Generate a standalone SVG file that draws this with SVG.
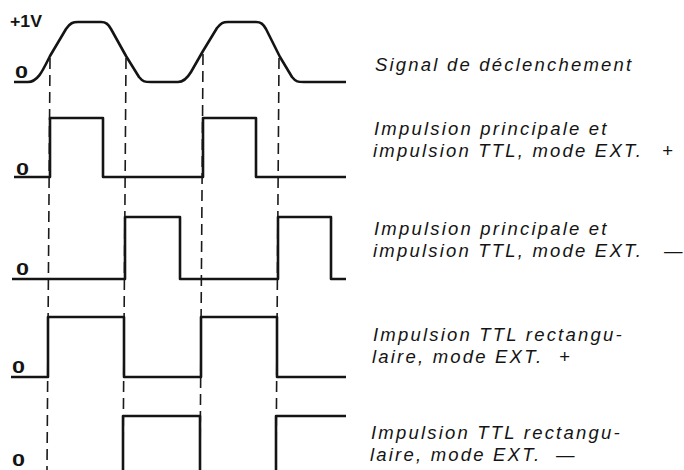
<svg xmlns="http://www.w3.org/2000/svg" width="684" height="470" viewBox="0 0 684 470">
<style>
  .wave { fill: none; stroke: #141414; stroke-width: 2.6; stroke-linejoin: round; stroke-linecap: butt; }
  .dash { fill: none; stroke: #1a1a1a; stroke-width: 1.6; stroke-dasharray: 11 6; }
  .lab { font-family: "Liberation Sans", Arial, sans-serif; font-style: italic; font-size: 18.5px; letter-spacing: 2.2px; fill: #141414; }
  .zero { font-family: "Liberation Sans", Arial, sans-serif; font-weight: bold; font-size: 16px; fill: #141414; }
</style>
<rect width="684" height="470" fill="#ffffff"/>

<g id="guides">
  <line class="dash" x1="50" y1="58" x2="47" y2="470"/>
  <line class="dash" x1="126" y1="58" x2="123" y2="470"/>
  <line class="dash" x1="203" y1="54" x2="200" y2="470"/>
  <line class="dash" x1="279" y1="58" x2="276" y2="470"/>
</g>

<g id="trigger">
  <path class="wave" d="M14,82 L28,82 C38,82 43,70 50,56 L66,29 C70,23 73,22 78,22 L101,22 C106,22 108,24 111,29 L126,56 L139,77 C143,82 145,82 151,82 L178,82 C184,82 188,77 191,72 L203,51 L217,28 C221,23 223,22 228,22 L256,22 C261,22 263,24 266,29 L280,57 L292,77 C296,82 298,82 304,82 L346,82"/>
  <text class="zero" x="10" y="27" textLength="32" lengthAdjust="spacingAndGlyphs">+1V</text>
  <text class="zero" x="15" y="78" textLength="13" lengthAdjust="spacingAndGlyphs">0</text>
  <text class="lab" x="375" y="71">Signal de déclenchement</text>
</g>

<g id="pulse-ext-plus">
  <path class="wave" d="M14,177 L50,177 L50,118 L103,118 L103,177 L203,177 L203,118 L256,118 L256,177 L346,177"/>
  <text class="zero" x="16" y="175" textLength="13" lengthAdjust="spacingAndGlyphs">0</text>
  <text class="lab" x="374" y="135">Impulsion principale et</text>
  <text class="lab" x="373" y="157">impulsion TTL, mode EXT.<tspan x="662">+</tspan></text>
</g>

<g id="pulse-ext-minus">
  <path class="wave" d="M12,279 L125,279 L125,217 L180,217 L180,279 L278,279 L278,217 L331,217 L331,279 L346,279"/>
  <text class="zero" x="16" y="275" textLength="13" lengthAdjust="spacingAndGlyphs">0</text>
  <text class="lab" x="374" y="235">Impulsion principale et</text>
  <text class="lab" x="373" y="257">impulsion TTL, mode EXT.<tspan x="664">—</tspan></text>
</g>

<g id="ttl-rect-plus">
  <path class="wave" d="M11,377 L48,377 L48,317 L124,317 L124,377 L201,377 L201,317 L277,317 L277,377 L346,377"/>
  <text class="zero" x="12" y="373" textLength="13" lengthAdjust="spacingAndGlyphs">0</text>
  <text class="lab" x="373" y="341">Impulsion TTL rectangu-</text>
  <text class="lab" x="372" y="363">laire, mode EXT.<tspan x="559">+</tspan></text>
</g>

<g id="ttl-rect-minus">
  <path class="wave" d="M123,472 L123,416 L200,416 L200,472 M276,472 L276,416 L346,416"/>
  <text class="zero" x="12" y="466" textLength="13" lengthAdjust="spacingAndGlyphs">0</text>
  <text class="lab" x="371" y="439">Impulsion TTL rectangu-</text>
  <text class="lab" x="370" y="461">laire, mode EXT.<tspan x="556">—</tspan></text>
</g>
</svg>
